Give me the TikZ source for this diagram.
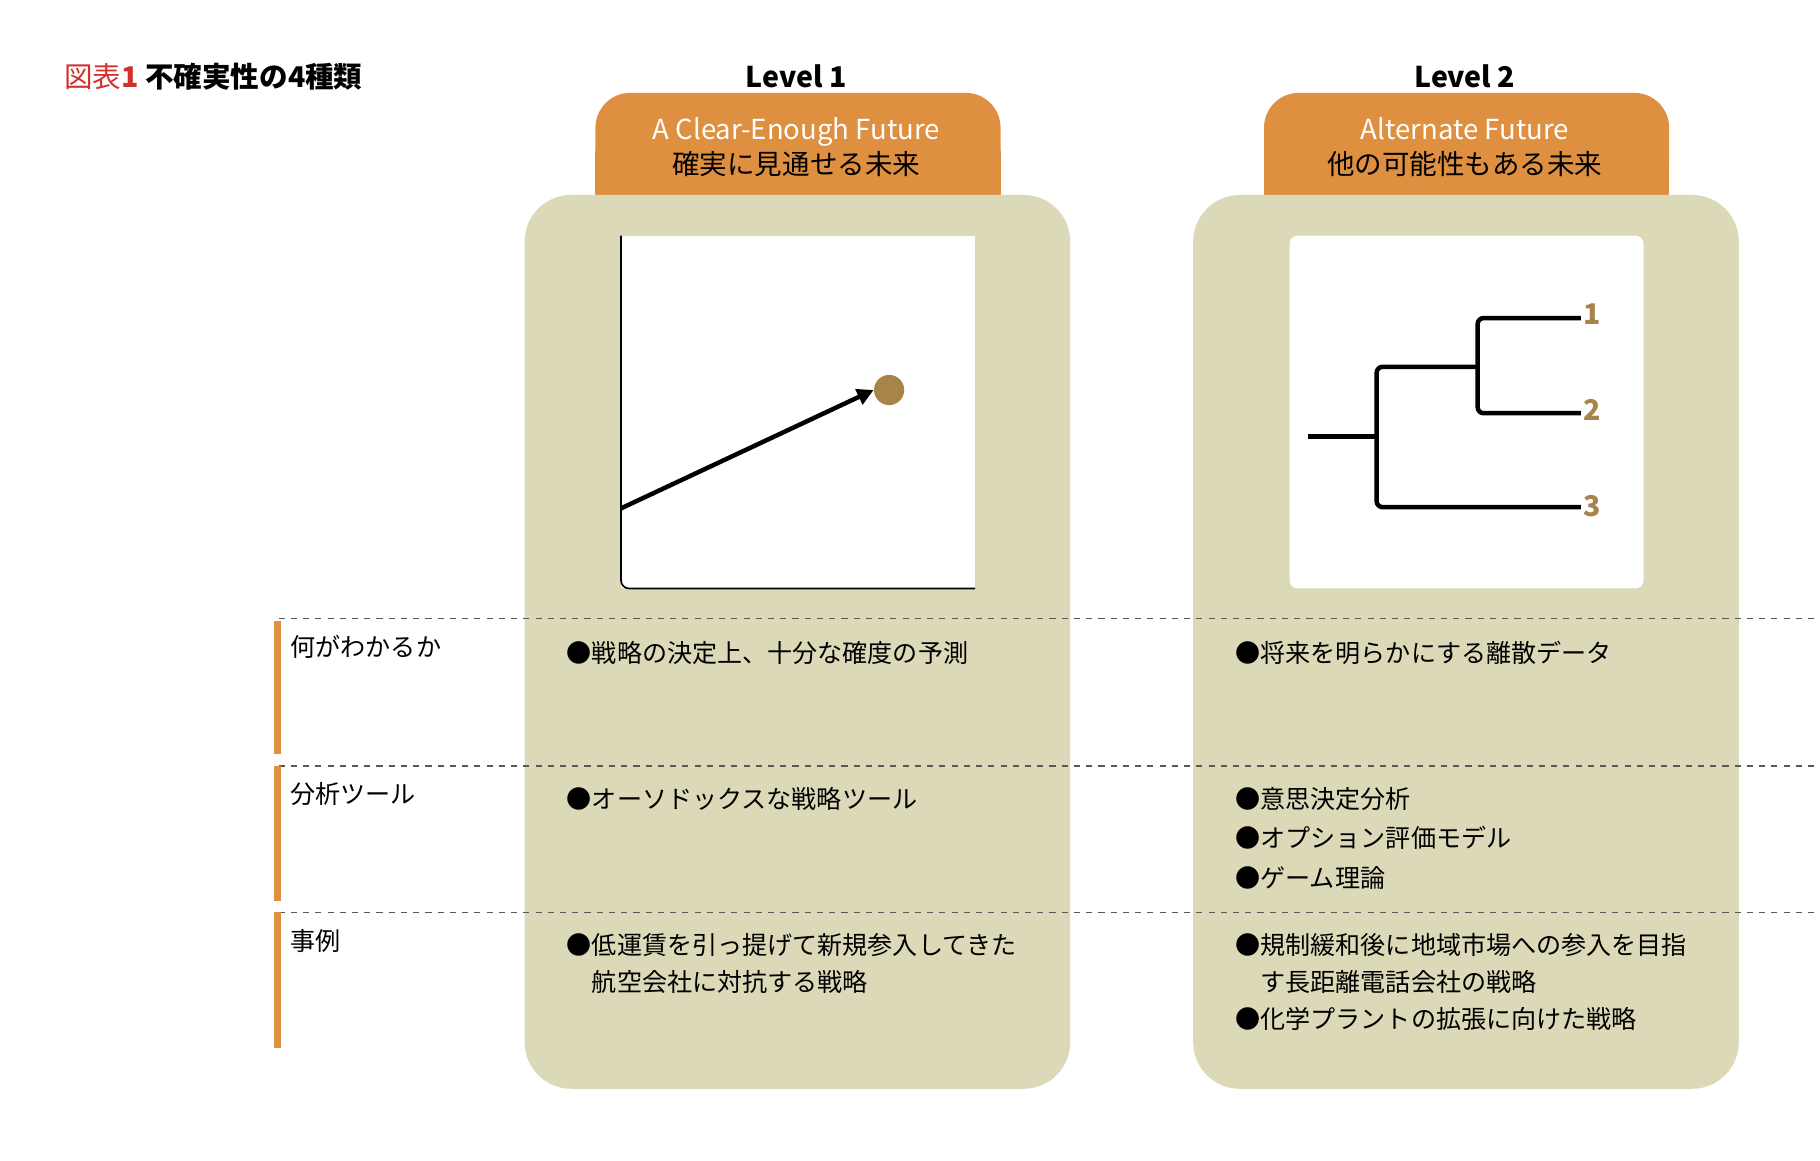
\documentclass[tikz,border=0pt]{standalone}
\usepackage{fontspec}
\setmainfont{Noto Sans CJK JP}
\usetikzlibrary{positioning,arrows.meta}
\definecolor{panelbg}{HTML}{DCD9B8}
\definecolor{taborange}{HTML}{DE9040}
\definecolor{dotbrown}{HTML}{A8844A}
\definecolor{titlered}{HTML}{D2322D}
\tikzset{
  panel/.style={fill=panelbg, rounded corners=0.8cm},
  tab/.style={fill=taborange, rounded corners=0.6cm},
  rowlabel/.style={anchor=north west, inner sep=0pt, font=\fontsize{12.3}{16}\selectfont},
  item/.style={anchor=north west, inner sep=0pt, align=left, font=\fontsize{12.3}{18}\selectfont},
  branch/.style={line width=2.2pt, rounded corners=3pt},
  leaf/.style={text=dotbrown, font=\fontsize{14}{16}\selectfont\bfseries, inner sep=1pt}
}
\begin{document}
\begin{tikzpicture}[x=0.02cm,y=-0.02cm]
\useasboundingbox (0,0) rectangle (1568,1000);
% title
\node (title) [anchor=west, inner sep=0pt, font=\fontsize{14}{16}\selectfont\bfseries] at (55,66)
  {\textcolor{titlered}{\mdseries 図表}\textcolor{titlered}{1} 不確実性の4種類};
% panels
\foreach \x/\lvl in {452/1,1028/2}{
  \fill[tab] (\x+61,168) rectangle (\x+410,80);
  \fill[taborange] (\x+61,130) rectangle (\x+410,168);
  \fill[panel] (\x,168) rectangle (\x+470,938);
  \node[font=\fontsize{14}{16}\selectfont\bfseries] at (\x+234,66) {Level \lvl};
}
\node (tabA) [align=center, font=\fontsize{13.5}{17}\selectfont] at (686,127)
  {\textcolor{white}{A Clear-Enough Future}\\確実に見通せる未来};
\node (tabB) [align=center, font=\fontsize{13.5}{17}\selectfont] at (1262,127)
  {\textcolor{white}{Alternate Future}\\他の可能性もある未来};
% level 1 chart
\fill[white] (535,203) rectangle (840,507);
\draw[line width=0.8pt, rounded corners=4pt] (535,203) -- (535,507) -- (840,507);
\coordinate (start) at (535,438);
\node (goal) [circle, fill=dotbrown, minimum size=0.52cm, inner sep=0pt] at (766,336) {};
\draw[line width=2.2pt, -{Triangle[length=8pt,width=8pt]}] (start) -- (goal.west);
% level 2 tree
\fill[white, rounded corners=4pt] (1111,203) rectangle (1416,507);
\node (l1) [leaf, anchor=west] at (1362,271) {1};
\node (l2) [leaf, anchor=west] at (1362,353) {2};
\node (l3) [leaf, anchor=west] at (1362,436) {3};
\coordinate (root) at (1127,376);
\draw[branch] (root) -- (1186,376);
\draw[branch] (1362,274) -- (1273,274) -- (1273,356) -- (1362,356);
\draw[branch] (1273,316) -- (1186,316) -- (1186,437) -- (1362,437);
% rows
\foreach \y in {533,660,786}
  \draw[dashed, gray!70!black, line width=0.6pt] (240,\y) -- (1568,\y);
\foreach \a/\b in {535/650,660/776,786/903}
  \fill[taborange] (236,\a) rectangle (242,\b);
\node (r1) [rowlabel] at (250,547) {何がわかるか};
\node (r2) [rowlabel] at (250,674) {分析ツール};
\node (r3) [rowlabel] at (250,800) {事例};
\node (a1) [item] at (488,552) {●戦略の決定上、十分な確度の予測};
\node (a2) [item] at (488,678) {●オーソドックスな戦略ツール};
\node (a3) [item] at (488,804) {●低運賃を引っ提げて新規参入してきた\\\hspace*{1em}航空会社に対抗する戦略};
\node (b1) [item] at (1064,552) {●将来を明らかにする離散データ};
\node (b2) [item, font=\fontsize{12.3}{19.3}\selectfont] at (1064,678) {●意思決定分析\\●オプション評価モデル\\●ゲーム理論};
\node (b3) [item] at (1064,804) {●規制緩和後に地域市場への参入を目指\\\hspace*{1em}す長距離電話会社の戦略\\●化学プラントの拡張に向けた戦略};
\end{tikzpicture}
\end{document}
